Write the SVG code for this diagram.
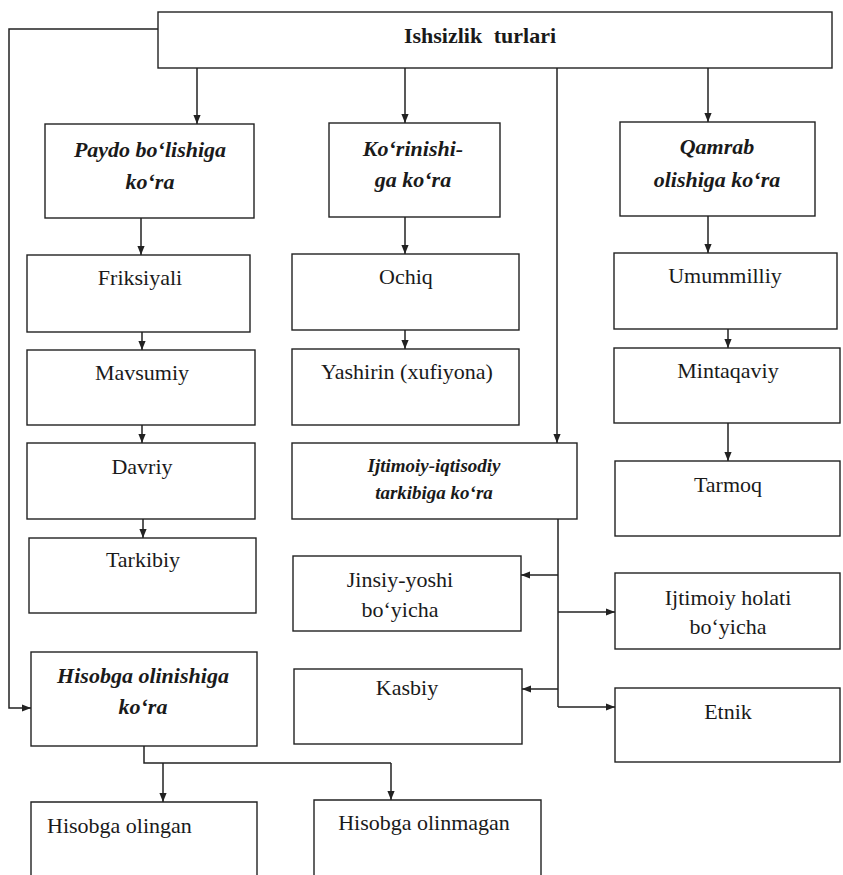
<svg xmlns="http://www.w3.org/2000/svg" width="843" height="875" viewBox="0 0 843 875">
<style>
.box{fill:#fff;stroke:#222;stroke-width:1.4}
text{font-family:'Liberation Serif','Times New Roman',Times,serif;fill:#1a1a1a;text-anchor:middle}
.t{font-size:22px}
.h{font-size:22px;font-weight:bold;font-style:italic}
.s{font-size:19px}
.ttl{font-size:22px;font-weight:bold;word-spacing:6px}
.c{fill:none;stroke:#222;stroke-width:1.5}
</style>
<defs>
<marker id="ar" viewBox="0 0 10 10" refX="10" refY="5" markerWidth="9" markerHeight="9" markerUnits="userSpaceOnUse" orient="auto">
<path d="M0,1 L10,5 L0,9 Z" fill="#222"/>
</marker>
</defs>
<rect width="843" height="875" fill="#fff"/>
<g id="connectors">
<path class="c" d="M158,29 H9 V708 H31" marker-end="url(#ar)"/>
<path class="c" d="M197,68 V124" marker-end="url(#ar)"/>
<path class="c" d="M405,68 V123" marker-end="url(#ar)"/>
<path class="c" d="M557,68 V443" marker-end="url(#ar)"/>
<path class="c" d="M708,68 V122" marker-end="url(#ar)"/>
<path class="c" d="M141,218 V255" marker-end="url(#ar)"/>
<path class="c" d="M405,217 V254" marker-end="url(#ar)"/>
<path class="c" d="M708,216 V253" marker-end="url(#ar)"/>
<path class="c" d="M142,332 V350" marker-end="url(#ar)"/>
<path class="c" d="M405,330 V349" marker-end="url(#ar)"/>
<path class="c" d="M728,329 V348" marker-end="url(#ar)"/>
<path class="c" d="M142,425 V443" marker-end="url(#ar)"/>
<path class="c" d="M728,423 V461" marker-end="url(#ar)"/>
<path class="c" d="M143,519 V538" marker-end="url(#ar)"/>
<path class="c" d="M558,519 V707"/>
<path class="c" d="M558,575 H521" marker-end="url(#ar)"/>
<path class="c" d="M558,612 H615" marker-end="url(#ar)"/>
<path class="c" d="M558,689 H522" marker-end="url(#ar)"/>
<path class="c" d="M558,707 H615" marker-end="url(#ar)"/>
<path class="c" d="M144,746 V763 H391"/>
<path class="c" d="M163,763 V802" marker-end="url(#ar)"/>
<path class="c" d="M391,763 V800" marker-end="url(#ar)"/>
</g>
<g id="n-ishsizlik"><rect class="box" x="158" y="12" width="674" height="56"/><text class="ttl" x="480" y="43">Ishsizlik turlari</text></g>
<g id="n-paydo"><rect class="box" x="45" y="124" width="209" height="94"/><text class="h" x="150" y="157">Paydo bo‘lishiga</text><text class="h" x="150" y="189">ko‘ra</text></g>
<g id="n-korinishi"><rect class="box" x="329" y="123" width="171" height="94"/><text class="h" x="413" y="156">Ko‘rinishi-</text><text class="h" x="413" y="187">ga ko‘ra</text></g>
<g id="n-qamrab"><rect class="box" x="620" y="122" width="195" height="94"/><text class="h" x="717" y="154">Qamrab</text><text class="h" x="717" y="187">olishiga ko‘ra</text></g>
<g id="n-friksiyali"><rect class="box" x="27" y="255" width="223" height="77"/><text class="t" x="140" y="285">Friksiyali</text></g>
<g id="n-ochiq"><rect class="box" x="292" y="254" width="227" height="76"/><text class="t" x="406" y="284">Ochiq</text></g>
<g id="n-umummilliy"><rect class="box" x="614" y="253" width="223" height="76"/><text class="t" x="725" y="283">Umummilliy</text></g>
<g id="n-mavsumiy"><rect class="box" x="27" y="350" width="228" height="75"/><text class="t" x="142" y="380">Mavsumiy</text></g>
<g id="n-yashirin"><rect class="box" x="292" y="349" width="227" height="76"/><text class="t" x="407" y="379">Yashirin (xufiyona)</text></g>
<g id="n-mintaqaviy"><rect class="box" x="614" y="348" width="226" height="75"/><text class="t" x="728" y="378">Mintaqaviy</text></g>
<g id="n-davriy"><rect class="box" x="27" y="443" width="228" height="76"/><text class="t" x="142" y="474">Davriy</text></g>
<g id="n-ijtimoiy-iqtisodiy"><rect class="box" x="292" y="443" width="285" height="76"/><text class="h s" x="434" y="472">Ijtimoiy-iqtisodiy</text><text class="h s" x="434" y="499">tarkibiga ko‘ra</text></g>
<g id="n-tarmoq"><rect class="box" x="615" y="461" width="225" height="75"/><text class="t" x="728" y="492">Tarmoq</text></g>
<g id="n-tarkibiy"><rect class="box" x="29" y="538" width="227" height="75"/><text class="t" x="143" y="567">Tarkibiy</text></g>
<g id="n-jinsiy"><rect class="box" x="293" y="556" width="228" height="75"/><text class="t" x="400" y="587">Jinsiy-yoshi</text><text class="t" x="400" y="617">bo‘yicha</text></g>
<g id="n-ijtimoiy-holati"><rect class="box" x="615" y="573" width="225" height="76"/><text class="t" x="728" y="605">Ijtimoiy holati</text><text class="t" x="728" y="634">bo‘yicha</text></g>
<g id="n-kasbiy"><rect class="box" x="294" y="669" width="228" height="75"/><text class="t" x="407" y="695">Kasbiy</text></g>
<g id="n-etnik"><rect class="box" x="615" y="688" width="225" height="74"/><text class="t" x="728" y="719">Etnik</text></g>
<g id="n-hisobga-olinishiga"><rect class="box" x="31" y="652" width="226" height="94"/><text class="h" x="143" y="683">Hisobga olinishiga</text><text class="h" x="143" y="714">ko‘ra</text></g>
<g id="n-hisobga-olingan"><path class="box" d="M31,880 V802 H257 V880"/><text class="t" x="47" y="833" style="text-anchor:start">Hisobga olingan</text></g>
<g id="n-hisobga-olinmagan"><path class="box" d="M314,880 V800 H541 V880"/><text class="t" x="424" y="830">Hisobga olinmagan</text></g>
</svg>
